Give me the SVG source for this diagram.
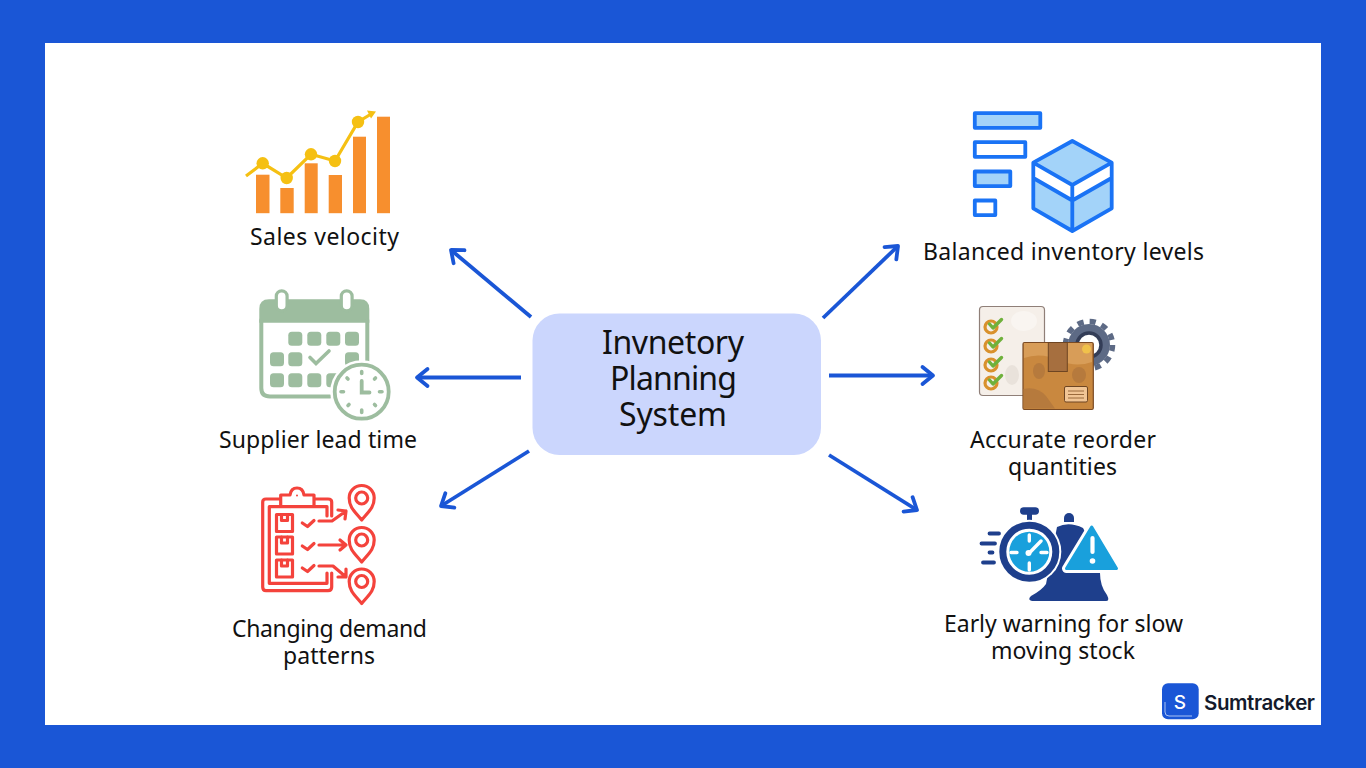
<svg xmlns="http://www.w3.org/2000/svg" width="1366" height="768" viewBox="0 0 1366 768">
<style>
text{font-family:"Noto Sans","Open Sans",sans-serif;fill:#111;text-anchor:middle}
.lbl{font-size:23px}
.ttl{font-size:32px}
.conn{fill:none;stroke:#1a56d6;stroke-width:3.8;marker-end:url(#arr)}
.sage{fill:#9dbd9f}
.sg{fill:none;stroke:#9dbd9f;stroke-linecap:round}
.red{fill:none;stroke:#f4433c;stroke-width:3.2;stroke-linejoin:round;stroke-linecap:round}
.blu{stroke:#1a73f5;stroke-width:3.800;stroke-linejoin:round}
.lb{fill:#a3d3f9}
.chk{fill:none;stroke:#6fb13c;stroke-width:3.400;stroke-linecap:round;stroke-linejoin:round}
.gold{fill:none;stroke:#d9912c;stroke-width:3.200}
.nav{fill:#1e3f8c}
.sky{fill:#19a0dc}
.spd{stroke:#1e3f8c;stroke-width:3.800;stroke-linecap:round}
.or{fill:#f78f2e}
.bl{fill:#b67a3d}
.pb{fill:#e9e2db}
</style>
<defs>
<marker id="arr" markerUnits="userSpaceOnUse" markerWidth="24" markerHeight="24" refX="14" refY="12" orient="auto">
<path d="M3.500 3.500 L14 12 L3.500 20.500" fill="none" stroke="#1a56d6" stroke-width="3.800" stroke-linecap="round" stroke-linejoin="round"/>
</marker>
<g id="pin"><path class="red" d="M0 17.500 C-7 9-12.500 5-12.500-4.500 A12.500 12.500 0 0 1 12.500-4.500 C12.500 5 7 9 0 17.500Z"/><circle class="red" cx="0" cy="-4.500" r="6"/></g>
<path id="ck" class="chk" d="M-4.500-1 L-1 3 L7.500-5.500"/>
<g id="crate"><rect class="red" x="0" y="0" width="16" height="17"/><path class="red" d="M5 0V6H11V0"/></g>
</defs>
<rect width="1366" height="768" fill="#1a56d6"/>
<rect x="45" y="43" width="1276" height="682" fill="#fff"/>

<g id="connectors">
<path class="conn" d="M531 317 L451 250"/>
<path class="conn" d="M521 377.500 L417 377.500"/>
<path class="conn" d="M529 451 L441 506"/>
<path class="conn" d="M823 318 L898 246"/>
<path class="conn" d="M829 375.500 L933 375.500"/>
<path class="conn" d="M829 455 L917 510"/>
</g>

<g id="center">
<rect x="532.500" y="313.500" width="288.500" height="141.500" rx="27" fill="#cbd6fd"/>
<text class="ttl" x="673" y="354" textLength="142">Invnetory</text>
<text class="ttl" x="673.500" y="390" textLength="127">Planning</text>
<text class="ttl" x="673" y="426" textLength="108">System</text>
</g>

<g id="sales-velocity">
<rect class="or" x="256" y="174.700" width="13.500" height="38.500"/>
<rect class="or" x="280.300" y="188" width="13.400" height="25.200"/>
<rect class="or" x="304.700" y="163.300" width="13" height="49.900"/>
<rect class="or" x="328.700" y="175" width="13.300" height="38.200"/>
<rect class="or" x="353" y="136.700" width="13" height="76.500"/>
<rect class="or" x="377" y="116.700" width="13" height="96.500"/>
<g fill="#f5c013">
<path d="M246 176 L262.700 163.300 L286.700 178 L311 154.300 L335 161 L358 122 L372 113.500" fill="none" stroke="#f5c013" stroke-width="3.200"/>
<path d="M367 110.500 L376 111.500 L371 118.500Z"/>
<circle cx="262.700" cy="163.300" r="6.200"/><circle cx="286.700" cy="178" r="6.200"/><circle cx="311" cy="154.300" r="6.200"/><circle cx="335" cy="161" r="6.200"/><circle cx="358" cy="122" r="6.200"/>
</g>
<text class="lbl" x="324.500" y="245" textLength="149">Sales velocity</text>
</g>

<g id="supplier-lead-time">
<path class="sage" d="M259.300 322.700 V309 Q259.300 299.300 269 299.300 H360 Q369.300 299.300 369.300 309 V322.700Z"/>
<path class="sg" stroke-width="4" d="M261.300 320 V388 Q261.300 396.500 270 396.500 H330 M367.300 320 V362"/>
<rect x="276.300" y="290.800" width="10.800" height="20" rx="5.400" fill="#fff" stroke="#9dbd9f" stroke-width="3.200"/>
<rect x="341.300" y="290.800" width="10.800" height="20" rx="5.400" fill="#fff" stroke="#9dbd9f" stroke-width="3.200"/>
<g class="sage">
<rect x="288.300" y="331.700" width="14" height="14" rx="3.500"/><rect x="307.300" y="331.700" width="14" height="14" rx="3.500"/><rect x="326.300" y="331.700" width="14" height="14" rx="3.500"/><rect x="345" y="331.700" width="14" height="14" rx="3.500"/>
<rect x="270" y="352.300" width="14" height="14" rx="3.500"/><rect x="288.300" y="352.300" width="14" height="14" rx="3.500"/><rect x="345" y="352.300" width="14" height="14" rx="3.500"/>
<rect x="270" y="373.300" width="14" height="14" rx="3.500"/><rect x="288.300" y="373.300" width="14" height="14" rx="3.500"/><rect x="307.300" y="373.300" width="14" height="14" rx="3.500"/><rect x="326.300" y="373.300" width="14" height="14" rx="3.500"/>
</g>
<path class="sg" stroke-width="3.600" d="M310 357.500 L316 363.500 L329 351"/>
<circle cx="361.700" cy="391.700" r="31.500" fill="#fff"/>
<circle cx="361.700" cy="391.700" r="27" fill="#fff" stroke="#9dbd9f" stroke-width="3.800"/>
<path class="sg" stroke-width="3.600" d="M361.700 371.500 V373.500 M361.700 410 V412.500 M341 391.700 H343.500 M379.500 391.700 H382 M347 378 L348 379 M375.500 378 L374.500 379 M348 405.500 L349 404.500 M375.500 405.500 L374.500 404.500"/>
<path class="sg" stroke-width="3.800" d="M361.700 381 V392.500 H369.500"/>
<text class="lbl" x="318" y="448" textLength="198">Supplier lead time</text>
</g>

<g id="changing-demand">
<path class="red" d="M280 499 H266 Q262.700 499 262.700 502 V587 Q262.700 590.700 266 590.700 H328 Q331.700 590.700 331.700 587 V573"/>
<path class="red" d="M315 499 H328 Q331.700 499 331.700 502 V516"/>
<path class="red" d="M327 516 V506.700 H269.300 V583.300 H327 V573"/>
<path class="red" d="M280.700 505 V495 H290 Q291 488 297 488 Q303 488 304 495 H314 V505"/>
<circle cx="297" cy="495.500" r="1" fill="#f4433c"/>
<use href="#crate" x="276.500" y="514.500"/><use href="#crate" x="276.500" y="537"/><use href="#crate" x="276.500" y="560"/>
<path class="red" d="M302.300 523 L307.500 526.500 L314 520.500 M302.300 546 L307.500 549.500 L314 543.500 M302.300 568 L307.500 571.500 L314 565.500"/>
<path class="red" d="M319 521 H332 L346 511 M338 510 L346 511 L345 519"/>
<path class="red" d="M319 545 H346 M340 540 L346 545 L340 550"/>
<path class="red" d="M319 566 H333 L346 577 M346 569 L346 577 L338 577"/>
<use href="#pin" x="361.700" y="502.500"/><use href="#pin" x="361.700" y="544.500"/><use href="#pin" x="361.700" y="586"/>
<text class="lbl" x="329.500" y="637" textLength="195">Changing demand</text>
<text class="lbl" x="329" y="664" textLength="92">patterns</text>
</g>

<g id="balanced-inventory">
<rect class="blu lb" x="974.800" y="113.200" width="65.500" height="14.600"/>
<rect class="blu" fill="#fff" x="974.800" y="142.200" width="50.500" height="14.600"/>
<rect class="blu lb" x="974.800" y="171.500" width="35.500" height="14.600"/>
<rect class="blu" fill="#fff" x="974.800" y="200.500" width="20.500" height="14.600"/>
<path class="lb" d="M1072.300 141 L1111.700 162.700 V208.300 L1072.300 231 L1033.300 208.300 V162.700Z"/>
<path fill="#fff" d="M1033.300 162.700 L1072.300 185 L1111.700 162.700 V178 L1072.300 200.500 L1033.300 178Z"/>
<path class="blu" fill="none" d="M1072.300 141 L1111.700 162.700 V208.300 L1072.300 231 L1033.300 208.300 V162.700Z M1033.300 162.700 L1072.300 185 L1111.700 162.700 M1033.300 178 L1072.300 200.500 L1111.700 178 M1072.300 185 V231"/>
<text class="lbl" x="1063.500" y="260" textLength="281">Balanced inventory levels</text>
</g>

<g id="accurate-reorder">
<circle cx="1089" cy="345" r="21" fill="#5d6a85"/>
<circle cx="1089" cy="345" r="23.500" fill="none" stroke="#5d6a85" stroke-width="5.500" stroke-dasharray="6.150 6.150"/>
<circle cx="1089" cy="345" r="12" fill="#fff" stroke="#333d57" stroke-width="3.500"/>
<rect x="979.500" y="306.500" width="65" height="89" rx="3.500" fill="#f5efe9" stroke="#8f7f78" stroke-width="1.200"/>
<ellipse cx="1024" cy="321" rx="13" ry="10" fill="#f9f5f1"/>
<ellipse cx="1012" cy="375" rx="7" ry="10" class="pb"/>
<g class="gold"><circle cx="991" cy="327" r="6"/><circle cx="991" cy="346" r="6"/><circle cx="991" cy="365" r="6"/><circle cx="991" cy="383" r="6"/></g>
<use href="#ck" x="994" y="325"/><use href="#ck" x="994" y="344"/><use href="#ck" x="994" y="363"/><use href="#ck" x="994" y="381"/>
<rect x="1023" y="342.500" width="70.300" height="67" rx="1.500" fill="#c9883f" stroke="#7a4a23" stroke-width="1.200"/>
<path d="M1024 343 H1092 V362 Q1075 368 1060 360 Q1040 352 1024 358Z" fill="#d89d58"/>
<ellipse cx="1039" cy="371" rx="6" ry="8" class="bl"/>
<ellipse cx="1079" cy="375" rx="7" ry="8" class="bl"/>
<path class="bl" d="M1023.500 389 Q1037 386 1046 396 L1055 408.500 H1023.500Z"/>
<rect x="1048.300" y="342.500" width="19" height="29" fill="#a66f3f" stroke="#6e4522"/>
<circle cx="1086.500" cy="349" r="4.500" fill="#f0c14b"/>
<rect x="1064.500" y="386.500" width="23" height="15.500" rx="1.500" fill="#f1c595" stroke="#6e4522"/>
<path d="M1068 391 H1084 M1068 394.500 H1084 M1068 398 H1084" stroke="#9a6a3c"/>
<text class="lbl" x="1063" y="448" textLength="186">Accurate reorder</text>
<text class="lbl" x="1062.500" y="475" textLength="109">quantities</text>
</g>

<g id="early-warning">
<path class="nav" d="M1064 522 V518 A5 5 0 0 1 1074 518 V522Z"/>
<path class="nav" d="M1057 527 Q1069 521 1083 528 L1100 560 V573 Q1100 586 1107 595 Q1110 601 1106 601 H1032 Q1027 600 1031 596 Q1042 590 1046 584 Z"/>
<rect class="nav" x="1020" y="507.300" width="19" height="7.500" rx="3.700"/>
<rect class="nav" x="1027" y="512" width="5" height="9"/>
<circle cx="1029.300" cy="551.700" r="32" fill="#fff"/>
<circle cx="1029.300" cy="551.700" r="26.500" fill="#fff" stroke="#1e3f8c" stroke-width="7"/>
<circle class="sky" cx="1029.300" cy="551.700" r="20"/>
<path d="M1029.300 553 L1041 541 M1029.300 535 V541 M1029.300 563 V570 M1011 552.500 H1017 M1041 552.500 H1047" stroke="#fff" stroke-width="3.400" stroke-linecap="round"/>
<circle cx="1028.500" cy="553" r="3" fill="#fff"/>
<path class="spd" d="M989.500 533.500 H999 M981.500 543.500 H995 M989.500 552.500 H992.500 M983 562.500 H994"/>
<path d="M1091.700 527 L1116.500 568.500 H1066.500 Z" fill="#fff" stroke="#fff" stroke-width="9" stroke-linejoin="round"/>
<path class="sky" d="M1091.700 527 L1116.500 568.500 H1066.500 Z" stroke="#19a0dc" stroke-width="3" stroke-linejoin="round"/>
<path d="M1092.500 538 V552" stroke="#fff" stroke-width="4.200" stroke-linecap="round"/>
<circle cx="1092.500" cy="561" r="2.800" fill="#fff"/>
<text class="lbl" x="1063.500" y="632" textLength="239">Early warning for slow</text>
<text class="lbl" x="1063" y="659" textLength="144">moving stock</text>
</g>

<g id="logo">
<rect x="1162" y="683.300" width="36.700" height="36" rx="6" fill="#1a56d6"/>
<path d="M1165 702 V712 Q1165 716 1169 716 H1192" fill="none" stroke="#a9c2f3" stroke-width="1"/>
<text x="1180" y="709" font-size="19" font-weight="500" style="fill:#fff;font-family:Inter,sans-serif">S</text>
<text x="1259.500" y="710" font-size="20.500" font-weight="600" textLength="111" style="fill:#141a2b;font-family:Inter,sans-serif">Sumtracker</text>
</g>
</svg>
